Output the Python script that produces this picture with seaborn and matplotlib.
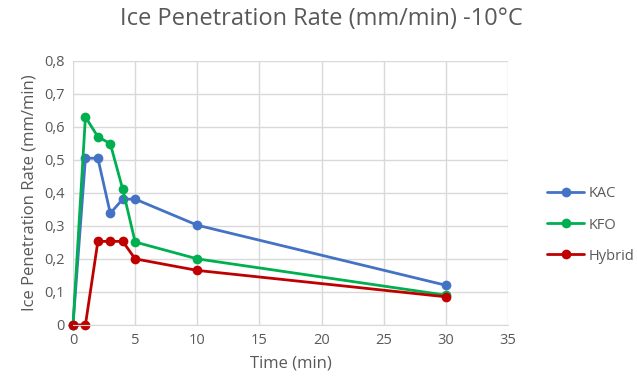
import pandas as pd
import matplotlib.pyplot as plt
import seaborn as sns

# Data
time_min = [0, 1, 2, 3, 4, 5, 10, 30]
kac = [0.0, 0.505, 0.505, 0.338, 0.381, 0.381, 0.302, 0.12]
kfo = [0.0, 0.63, 0.57, 0.549, 0.411, 0.251, 0.2, 0.09]
hybrid = [0.0, 0.0, 0.253, 0.253, 0.253, 0.2, 0.165, 0.085]
series_names = ['KAC', 'KFO', 'Hybrid']
colors = ['#4472C4', '#00B050', '#C00000']

df = pd.DataFrame({
    'Time': time_min * 3,
    'Rate': kac + kfo + hybrid,
    'Series': [s for s in series_names for _ in time_min],
})

sns.set_style('white')
plt.rcParams['font.family'] = ['Open Sans', 'DejaVu Sans']
text_col = '#595959'

fig = plt.figure(figsize=(6.37, 3.9), dpi=100)
ax = fig.add_axes([0.1146, 0.167, 0.683, 0.677])

sns.lineplot(data=df, x='Time', y='Rate', hue='Series', palette=colors,
             marker='o', markersize=7, markeredgewidth=0, linewidth=2,
             sort=False, ax=ax)

ax.set_xlim(0, 35)
ax.set_ylim(0, 0.8)
ax.set_xticks(range(0, 36, 5))
ax.set_yticks([i / 10 for i in range(9)])
ax.set_yticklabels(['0'] + [f'0,{i}' for i in range(1, 9)])
ax.grid(True, color='#D9D9D9', linewidth=1)
ax.set_axisbelow(True)
for side in ['top', 'right', 'left']:
    ax.spines[side].set_visible(False)
ax.spines['bottom'].set_color('#D9D9D9')
ax.tick_params(axis='both', length=0, colors=text_col, labelsize=10.5, pad=6)
for ln in ax.get_lines():
    ln.set_clip_on(False)

ax.set_xlabel('Time (min)', color=text_col, fontsize=12, labelpad=5)
ax.set_ylabel('Ice Penetration Rate (mm/min)', color=text_col, fontsize=12, labelpad=5)
fig.text(0.505, 0.952, 'Ice Penetration Rate (mm/min) -10°C', color=text_col,
         fontsize=17, ha='center', va='center')

leg = ax.legend(loc='center left', bbox_to_anchor=(0.858, 0.423),
                bbox_transform=fig.transFigure, frameon=False, borderpad=0,
                borderaxespad=0, fontsize=10.5, handlelength=2.6,
                labelspacing=1.1, handletextpad=0.3)
for t in leg.get_texts():
    t.set_color(text_col)

fig.savefig('out.png', dpi=100)
